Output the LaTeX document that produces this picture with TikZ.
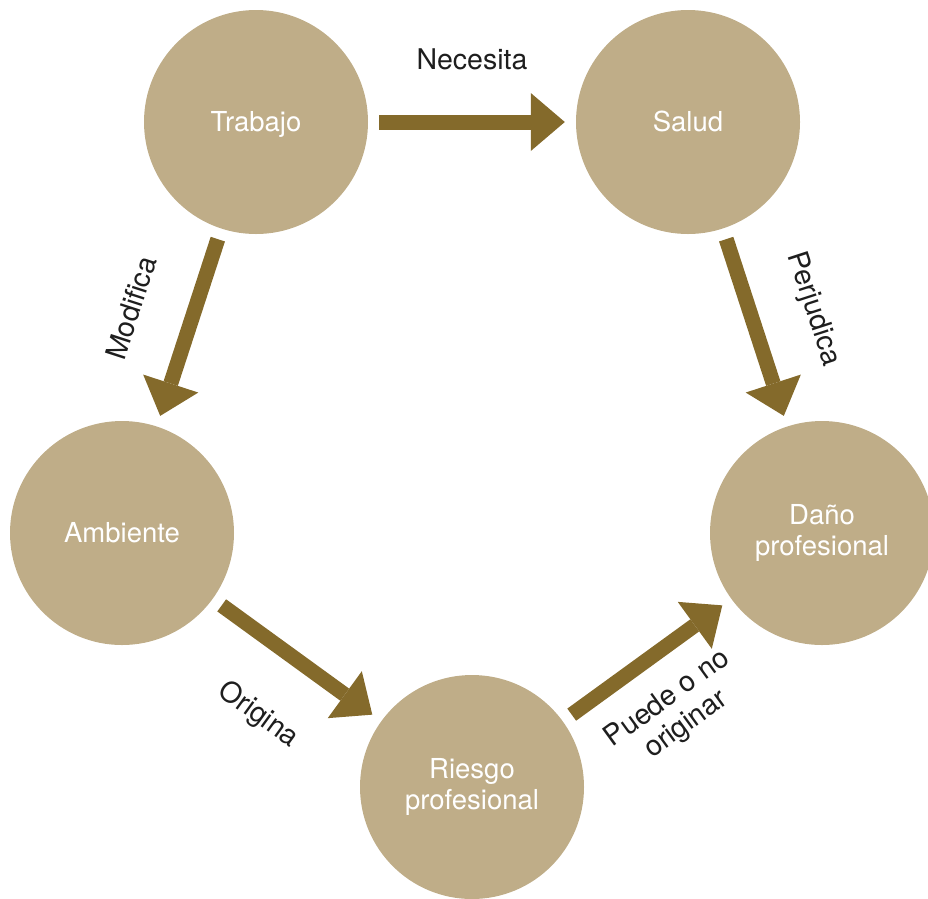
\documentclass[tikz,border=0pt]{standalone}
\usepackage{fontspec}
\setmainfont{TeX Gyre Heros}
\usetikzlibrary{arrows.meta}
\definecolor{circ}{HTML}{BFAD88}
\definecolor{arr}{HTML}{846A2B}
\definecolor{lbl}{HTML}{1E1E1E}
\begin{document}
\begin{tikzpicture}[x=1pt,y=-1pt,
  bubble/.style={circle,fill=circ,minimum size=224pt,inner sep=0pt,text=white,
    font=\fontsize{27.5}{31}\selectfont,align=center,text height=19.5pt,text depth=0pt},
  twoline/.style={text height=,text depth=},
  conn/.style={draw=arr,line width=15pt,
    -{Triangle[width=58pt,length=34pt,line width=0pt]},
    shorten <=11pt,shorten >=11pt},
  lab/.style={text=lbl,font=\fontsize{28.5}{32}\selectfont,align=center,inner sep=0pt}]
\useasboundingbox (0,0) rectangle (928,898);
\node[bubble] (trab) at (256,122) {Trabajo};
\node[bubble] (salud) at (688,122) {Salud};
\node[bubble,twoline] (dano) at (822,533) {Daño\\profesional};
\node[bubble,twoline] (riesgo) at (472,787) {Riesgo\\profesional};
\node[bubble] (amb) at (122,533) {Ambiente};
\draw[conn] (trab) -- (salud);
\draw[conn] (trab) -- (amb);
\draw[conn] (salud) -- (dano);
\draw[conn] (amb) -- (riesgo);
\draw[conn] (riesgo) -- (dano);
\node[lab] (l1) at (472,59) {Necesita};
\node[lab,rotate=72] (l2) at (131,308) {Modifica};
\node[lab,rotate=-72] (l3) at (813,309) {Perjudica};
\node[lab,rotate=-36] (l4) at (258,715) {Origina};
\node[lab,rotate=36] (l5) at (677,712) {Puede o no\\originar};
\end{tikzpicture}
\end{document}
